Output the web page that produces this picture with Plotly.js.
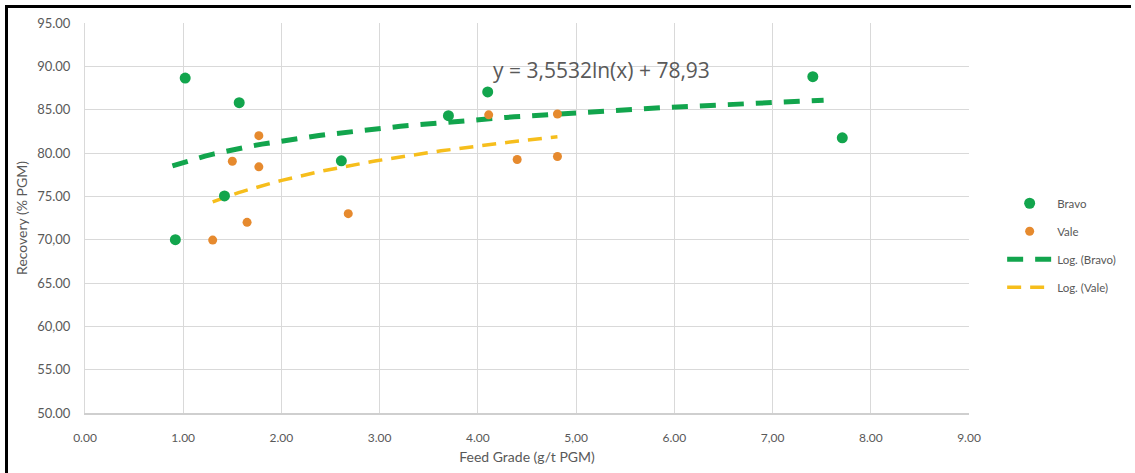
<!DOCTYPE html>
<html>
<head>
<meta charset="utf-8">
<script src="https://cdn.plot.ly/plotly-3.0.1.min.js"></script>
<style>
  html, body { margin: 0; padding: 0; background: #fff; width: 1135px; height: 473px; overflow: hidden; }
  #frame { position: absolute; left: 5px; top: 5px; border-left: 3px solid #000; border-top: 3px solid #000; width: 1123px; height: 465px; overflow: hidden; }
  #chart { width: 1127px; height: 465px; }
</style>
</head>
<body>
<div id="frame"><div id="chart"></div></div>
<script>
// ---- data ----
const bravoX = [0.92, 1.02, 1.42, 1.57, 2.61, 3.70, 4.10, 7.41, 7.71];
const bravoY = [70.0, 88.65, 75.05, 85.8, 79.1, 84.3, 87.05, 88.8, 81.75];
const valeX = [1.30, 1.50, 1.65, 1.77, 1.77, 2.68, 4.11, 4.40, 4.81, 4.81];
const valeY = [69.95, 79.05, 72.0, 82.0, 78.4, 73.0, 84.4, 79.25, 84.5, 79.6];
const bravoFit = { a: 78.93, b: 3.5532 };   // from the chart's equation label
const bravoTrendRange = [0.89, 7.52];
const xTickVals = [0, 1, 2, 3, 4, 5, 6, 7, 8, 9];
const xTickText = ["0.00", "1.00", "2.00", "3.00", "4.00", "5,00", "6.00", "7,00", "8.00", "9.00"];
const yTickVals = [50, 55, 60, 65, 70, 75, 80, 85, 90, 95];
const yTickText = ["50.00", "55.00", "60,00", "65.00", "70,00", "75.00", "80.00", "85.00", "90.00", "95.00"];
const equationText = "y = 3,5532ln(x) + 78,93";

// logarithmic least-squares fit for Vale (Excel "Log." trendline)
function logFit(xs, ys) {
  const lx = xs.map(Math.log);
  const n = xs.length;
  const mx = lx.reduce((s, v) => s + v, 0) / n;
  const my = ys.reduce((s, v) => s + v, 0) / n;
  let sxy = 0, sxx = 0;
  for (let i = 0; i < n; i++) { sxy += (lx[i] - mx) * (ys[i] - my); sxx += (lx[i] - mx) ** 2; }
  const b = sxy / sxx;
  return { a: my - b * mx, b: b };
}
function curve(fit, x0, x1) {
  const xs = [], ys = [];
  const steps = 80;
  for (let i = 0; i <= steps; i++) {
    const x = x0 + (x1 - x0) * i / steps;
    xs.push(x); ys.push(fit.a + fit.b * Math.log(x));
  }
  return { xs, ys };
}
const valeFit = logFit(valeX, valeY);
const bT = curve(bravoFit, bravoTrendRange[0], bravoTrendRange[1]);
const vT = curve(valeFit, Math.min(...valeX), Math.max(...valeX));

const GREEN = '#12a54d', ORANGE = '#e68a2e', YELLOW = '#f6be1c';
const FONT = 'Lato, "Open Sans", sans-serif';
const TXT = '#595959';

const trendB = { x: bT.xs, y: bT.ys, type: 'scatter', mode: 'lines', name: 'Log. (Bravo)', legendgroup: 'c', legendrank: 3,
  line: { color: GREEN, width: 5, dash: '16px,12px' } };
const trendV = { x: vT.xs, y: vT.ys, type: 'scatter', mode: 'lines', name: 'Log. (Vale)', legendgroup: 'd', legendrank: 4,
  line: { color: YELLOW, width: 3.5, dash: '14px,9px' } };
const ptsB = { x: bravoX, y: bravoY, type: 'scatter', mode: 'markers', name: 'Bravo', legendgroup: 'a', legendrank: 1,
  marker: { color: GREEN, size: 11 } };
const ptsV = { x: valeX, y: valeY, type: 'scatter', mode: 'markers', name: 'Vale', legendgroup: 'b', legendrank: 2,
  marker: { color: ORANGE, size: 9 } };

const layout = {
  width: 1127, height: 465,
  margin: { l: 77, r: 166, t: 15, b: 60 },
  paper_bgcolor: '#fff', plot_bgcolor: '#fff',
  font: { family: FONT, color: TXT, size: 12 },
  showlegend: true,
  legend: {
    x: 1.0375, xanchor: 'left', y: 0.575, yanchor: 'top',
    traceorder: 'grouped', tracegroupgap: 9, itemwidth: 45,
    font: { size: 11.5, color: TXT, family: FONT },
    bgcolor: 'rgba(0,0,0,0)'
  },
  xaxis: {
    range: [0, 9], tickvals: xTickVals, ticktext: xTickText,
    showgrid: true, gridcolor: '#d9d9d9', gridwidth: 1,
    showline: true, linecolor: '#cfcfcf', linewidth: 1.5,
    zeroline: false, ticks: 'outside', ticklen: 13, tickcolor: 'rgba(0,0,0,0)',
    tickfont: { size: 12, color: TXT },
    title: { text: 'Feed Grade (g/t PGM)', font: { size: 14, color: TXT }, standoff: 8 },
    fixedrange: true
  },
  yaxis: {
    range: [50, 95], tickvals: yTickVals, ticktext: yTickText,
    showgrid: true, gridcolor: '#d9d9d9', gridwidth: 1,
    showline: true, linecolor: '#d9d9d9', linewidth: 1,
    zeroline: false, ticks: 'outside', ticklen: 11, tickcolor: 'rgba(0,0,0,0)',
    tickfont: { size: 13, color: TXT },
    title: { text: 'Recovery (% PGM)', font: { size: 14, color: TXT }, standoff: 6 },
    fixedrange: true
  },
  annotations: [{
    x: 4.13, y: 89.6, xref: 'x', yref: 'y', xanchor: 'left', yanchor: 'middle',
    text: equationText, showarrow: false,
    font: { size: 21, color: TXT, family: '"Open Sans", sans-serif' }
  }]
};

Plotly.newPlot('chart', [trendB, trendV, ptsB, ptsV], layout, { displayModeBar: false, staticPlot: true });
</script>
</body>
</html>
